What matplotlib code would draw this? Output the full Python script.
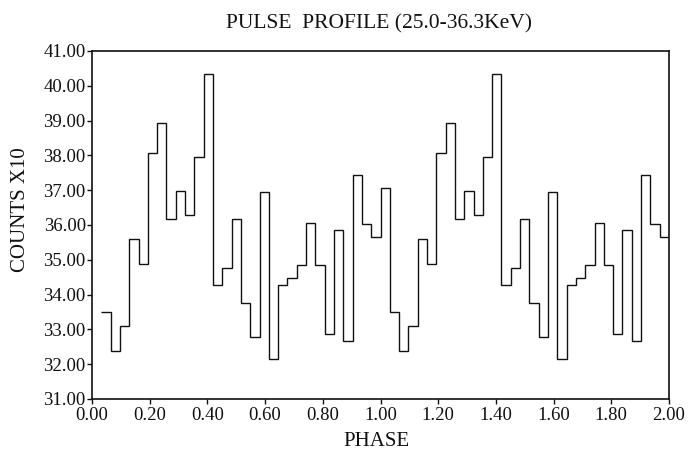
import numpy as np
import matplotlib
matplotlib.use("Agg")
import matplotlib.pyplot as plt

# ---- data (counts x10 per phase bin) ----
bins_per_cycle = 31
first_bin_index = 1
counts = [
    33.49, 32.38, 33.09, 35.59, 34.87, 38.06, 38.94, 36.17, 36.97, 36.28,
    37.96, 40.34, 34.27, 34.77, 36.16, 33.77, 32.77, 36.94, 32.16, 34.27,
    34.47, 34.85, 36.05, 34.86, 32.87, 35.86, 32.66, 37.45, 36.04, 35.65,
    37.05,
    33.49, 32.38, 33.09, 35.59, 34.87, 38.06, 38.94, 36.17, 36.97, 36.28,
    37.96, 40.34, 34.27, 34.77, 36.16, 33.77, 32.77, 36.94, 32.16, 34.27,
    34.47, 34.85, 36.05, 34.86, 32.87, 35.86, 32.66, 37.45, 36.04, 35.65,
]
x_ticks = [0.0, 0.2, 0.4, 0.6, 0.8, 1.0, 1.2, 1.4, 1.6, 1.8, 2.0]
y_ticks = [31, 32, 33, 34, 35, 36, 37, 38, 39, 40, 41]
title = "PULSE  PROFILE (25.0-36.3KeV)"
xlabel = "PHASE"
ylabel = "COUNTS X10"

edges = np.arange(first_bin_index, first_bin_index + len(counts) + 1) / bins_per_cycle

plt.rcParams["font.family"] = ["Liberation Serif", "DejaVu Serif"]

W, H = 691, 457
fig = plt.figure(figsize=(W / 100, H / 100), dpi=100)
L, R, T, B = 92, 669, 51, 399
ax = fig.add_axes([L / W, 1 - B / H, (R - L) / W, (B - T) / H])

ax.stairs(counts, edges, baseline=None, color="#111111", linewidth=1.0)

ax.set_xlim(0, 2)
ax.set_ylim(31, 41)
ax.set_xticks(x_ticks)
ax.set_yticks(y_ticks)
ax.set_xticklabels([f"{v:.2f}" for v in x_ticks])
ax.set_yticklabels([f"{v:.2f}" for v in y_ticks])
ax.tick_params(axis="both", direction="out", length=3.5, width=1.0,
               labelsize=13.5, colors="#111111")
ax.tick_params(axis="y", pad=1)
ax.tick_params(axis="x", pad=2)
for s in ax.spines.values():
    s.set_linewidth(1.2)
    s.set_color("#111111")

fig.text(379 / W, 1 - 28 / H, title, ha="center", va="baseline",
         fontsize=15.5, color="#111111")
fig.text(376 / W, 1 - 446 / H, xlabel, ha="center", va="baseline",
         fontsize=15, color="#111111")
fig.text(21 / W, 1 - 210 / H, ylabel, ha="center", va="center",
         rotation=90, fontsize=15, color="#111111")

fig.savefig("out.png", dpi=100)
